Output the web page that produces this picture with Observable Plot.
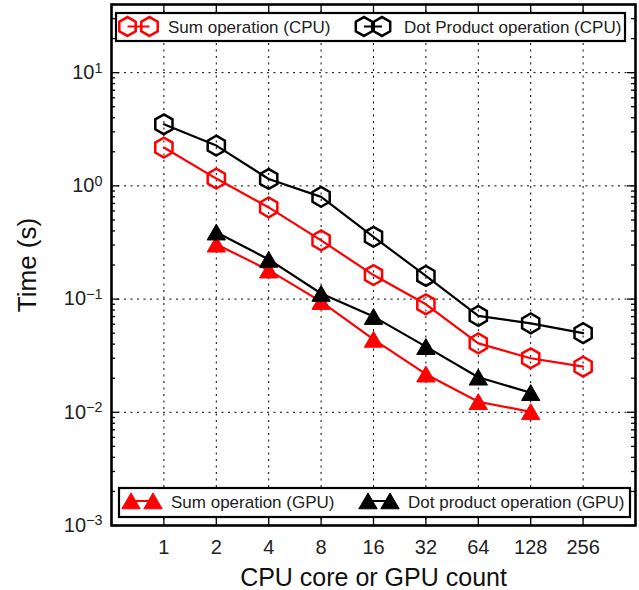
<!DOCTYPE html>
<html><head><meta charset="utf-8">
<script src="https://cdn.jsdelivr.net/npm/d3@7"></script>
<script src="https://cdn.jsdelivr.net/npm/@observablehq/plot@0.6"></script>
<style>
body{margin:0;background:#fff;}
#chart{position:relative;width:639px;height:590px;}
svg{font-family:"Liberation Sans",Arial,sans-serif;}
</style>
</head><body><div id="chart"></div>
<script>
// ---- data ----
const counts = [1, 2, 4, 8, 16, 32, 64, 128, 256];
const gpuCounts = [2, 4, 8, 16, 32, 64, 128];
const sumCPU = [2.18, 1.16, 0.645, 0.33, 0.163, 0.09, 0.0406, 0.030, 0.0253];
const dotCPU = [3.5, 2.27, 1.15, 0.80, 0.355, 0.16, 0.071, 0.061, 0.050];
const sumGPU = [0.305, 0.18, 0.095, 0.044, 0.0217, 0.0124, 0.0101];
const dotGPU = [0.39, 0.224, 0.112, 0.07, 0.038, 0.0204, 0.0149];
const yTicks = [1e-3, 1e-2, 1e-1, 1, 10];
const seriesNames = ["Sum operation (CPU)", "Dot Product operation (CPU)", "Sum operation (GPU)", "Dot product operation (GPU)"];
const xLabel = "CPU core or GPU count";
const yLabel = "Time (s)";

const minorY = [];
for (const d of yTicks) for (let m = 2; m <= 9; m++) { const v = m * d; if (v <= 40) minorY.push(v); }

const rows = (xs, ys) => xs.map((x, i) => ({x, y: ys[i]}));
const dSumCPU = rows(counts, sumCPU), dDotCPU = rows(counts, dotCPU);
const dSumGPU = rows(gpuCounts, sumGPU), dDotGPU = rows(gpuCounts, dotGPU);

const W = 639, H = 590, mL = 111, mR = 4, mT = 4, mB = 65;
const pW = W - mL - mR, pH = H - mT - mB;
const RED = "#ff0000";
const hexR = 8.6, triR = 6.8;

const chart = Plot.plot({
  width: W, height: H,
  marginLeft: mL, marginRight: mR, marginTop: mT, marginBottom: mB,
  style: {fontFamily: "Liberation Sans, Arial, sans-serif", background: "white", overflow: "visible"},
  x: {type: "log", base: 2, domain: [0.5, 512]},
  y: {type: "log", domain: [1e-3, 40]},
  marks: [
    Plot.gridX(counts, {stroke: "black", strokeOpacity: 1, strokeWidth: 1, strokeDasharray: "2,4.5"}),
    Plot.gridY(yTicks, {stroke: "black", strokeOpacity: 1, strokeWidth: 1, strokeDasharray: "2,4.5"}),
    // inner ticks
    Plot.tickX(counts, {x: d => d, insetTop: pH - 8, stroke: "black", strokeWidth: 1.3}),
    Plot.tickX(counts, {x: d => d, insetBottom: pH - 8, stroke: "black", strokeWidth: 1.3}),
    Plot.tickY(yTicks, {y: d => d, insetRight: pW - 8, stroke: "black", strokeWidth: 1.3}),
    Plot.tickY(yTicks, {y: d => d, insetLeft: pW - 8, stroke: "black", strokeWidth: 1.3}),
    Plot.tickY(minorY, {y: d => d, insetRight: pW - 4, stroke: "black", strokeWidth: 1.3}),
    Plot.tickY(minorY, {y: d => d, insetLeft: pW - 4, stroke: "black", strokeWidth: 1.3}),
    // series
    Plot.line(dSumCPU, {x: "x", y: "y", stroke: RED, strokeWidth: 2.2}),
    Plot.dot(dSumCPU, {x: "x", y: "y", symbol: "hexagon", r: hexR, stroke: RED, strokeWidth: 2.5, fill: "none"}),
    Plot.line(dDotCPU, {x: "x", y: "y", stroke: "black", strokeWidth: 2.2}),
    Plot.dot(dDotCPU, {x: "x", y: "y", symbol: "hexagon", r: hexR, stroke: "black", strokeWidth: 2.5, fill: "none"}),
    Plot.line(dSumGPU, {x: "x", y: "y", stroke: RED, strokeWidth: 2.2}),
    Plot.dot(dSumGPU, {x: "x", y: "y", symbol: "triangle", r: triR, fill: RED, stroke: RED, strokeWidth: 1, dy: 2.5}),
    Plot.line(dDotGPU, {x: "x", y: "y", stroke: "black", strokeWidth: 2.2}),
    Plot.dot(dDotGPU, {x: "x", y: "y", symbol: "triangle", r: triR, fill: "black", stroke: "black", strokeWidth: 1, dy: 2.5}),
    Plot.frame({stroke: "black", strokeWidth: 2.6}),
    // axes
    Plot.axisX(counts, {tickSize: 0, tickPadding: 14, fontSize: 20, tickFormat: d => String(d), label: null, stroke: "none", fill: "#222"}),
    Plot.axisY(yTicks, {tickSize: 0, tickPadding: 9, fontSize: 20, tickFormat: d => String(Math.round(Math.log10(d))), label: null, stroke: "none", fill: "#222"}),
    Plot.axisX([], {label: xLabel, labelAnchor: "center", labelArrow: "none", labelOffset: 60, fontSize: 25, tickSize: 0, fill: "#111"}),
    Plot.axisY([], {label: yLabel, labelAnchor: "center", labelArrow: "none", labelOffset: 94, fontSize: 26, tickSize: 0, fill: "#111"})
  ]
});

document.getElementById("chart").appendChild(chart);

const svg = d3.select(chart);
// superscript exponents for y tick labels
svg.selectAll('g[aria-label="y-axis tick label"] text').each(function() {
  const e = d3.select(this).text();
  const el = d3.select(this).text("10");
  el.append("tspan").attr("dy", "-0.45em").attr("font-size", "0.72em").text(e.replace("-", "\u2212"));
});

// legends
function hexagon(r) {
  const rx = Math.sqrt(Math.PI * r * r / (2 * Math.sqrt(3))), ry = rx * 2 / Math.sqrt(3), hy = ry / 2;
  return `M0,${ry}L${rx},${hy}L${rx},${-hy}L0,${-ry}L${-rx},${-hy}L${-rx},${hy}Z`;
}
const triPath = d3.symbol(d3.symbolTriangle, Math.PI * triR * triR)();
const leg = svg.append("g").attr("class", "legends");
function legendBox(x, y, w, h) {
  leg.append("rect").attr("x", x).attr("y", y).attr("width", w).attr("height", h)
    .attr("fill", "white").attr("stroke", "black").attr("stroke-width", 2.2);
}
function legendItem(x1, x2, cy, color, kind, label, tx, ty) {
  const g = leg.append("g");
  g.append("line").attr("x1", x1).attr("x2", x2).attr("y1", cy).attr("y2", cy).attr("stroke", color).attr("stroke-width", 2);
  for (const x of [x1, x2]) {
    if (kind === "hex") g.append("path").attr("d", hexagon(hexR)).attr("transform", `translate(${x},${cy})`).attr("fill", "none").attr("stroke", color).attr("stroke-width", 2.5);
    else g.append("path").attr("d", triPath).attr("transform", `translate(${x},${cy + 2.5})`).attr("fill", color).attr("stroke", color).attr("stroke-width", 1);
  }
  g.append("text").attr("x", tx).attr("y", ty).attr("font-size", 17).attr("text-anchor", "start").attr("fill", "#222").text(label);
}
legendBox(116, 13, 509, 28);
legendItem(127.5, 149.5, 26.5, RED, "hex", seriesNames[0], 168, 32.5);
legendItem(364, 382, 26.5, "black", "hex", seriesNames[1], 404, 32.5);
legendBox(119, 488, 511, 29);
legendItem(131, 153, 501, RED, "tri", seriesNames[2], 171, 508);
legendItem(368, 390, 501, "black", "tri", seriesNames[3], 408, 508);
</script>
</body></html>
